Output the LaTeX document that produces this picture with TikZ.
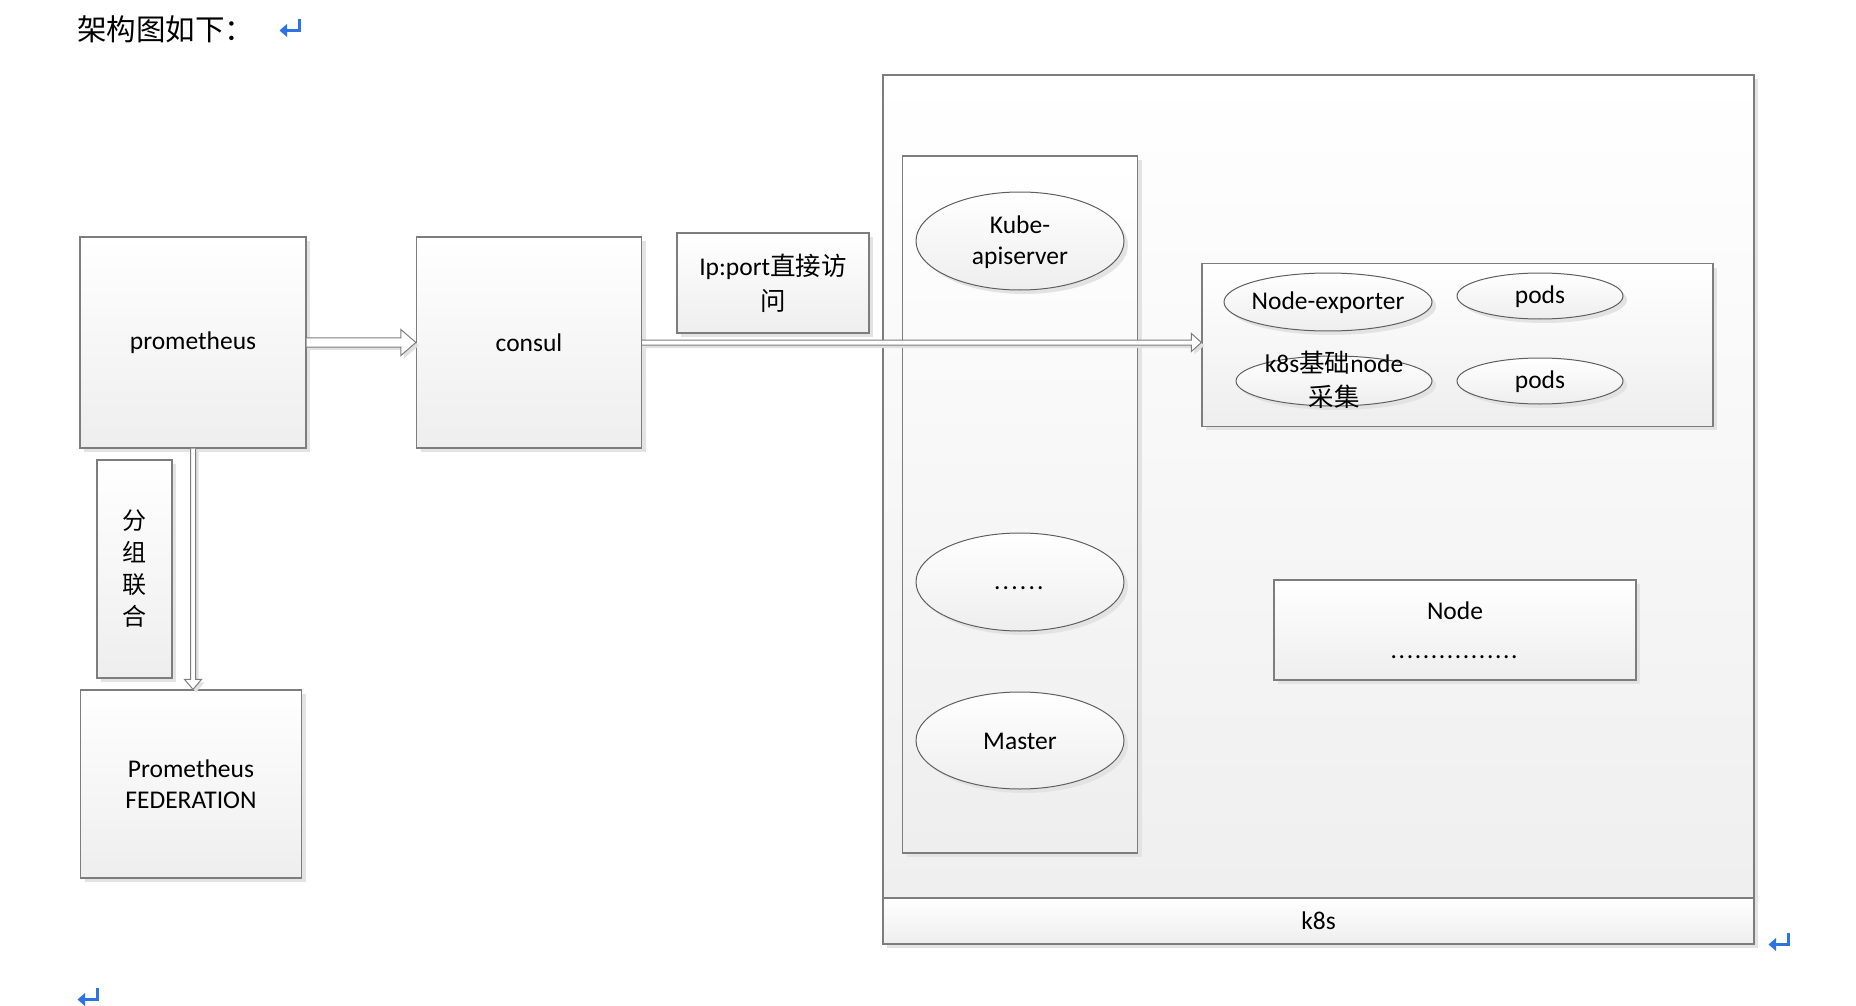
\documentclass[tikz,border=0pt]{standalone}
\usepackage{fontspec}
\setmainfont{Carlito}
\newfontfamily\cjk{Noto Sans CJK SC}
\usetikzlibrary{shapes.geometric,shadows,calc}
\definecolor{bordergray}{RGB}{125,125,125}
\definecolor{ellgray}{RGB}{95,95,95}
\definecolor{fillbot}{RGB}{238,238,238}
\definecolor{retblue}{RGB}{45,115,225}
\tikzset{
  shad/.style={drop shadow={shadow xshift=4pt,shadow yshift=-4pt,fill=black!11,opacity=1}},
  box/.style={draw=bordergray,line width=1.2pt,top color=white,bottom color=fillbot,shad,
    inner sep=0pt,font=\fontsize{25.5}{31}\selectfont,align=center},
  plainbox/.style={draw=bordergray,line width=1.2pt,top color=white,bottom color=fillbot,
    inner sep=0pt,font=\fontsize{25.5}{31}\selectfont,align=center},
  ell/.style={ellipse,draw=ellgray,line width=1pt,top color=white,bottom color=fillbot,shad,inner sep=0pt},
  lbl/.style={font=\fontsize{25.5}{31}\selectfont,align=center,inner sep=0pt},
  hollow/.style={draw=bordergray,line width=1pt,fill=white,drop shadow={shadow xshift=3pt,shadow yshift=-3pt,fill=black!12,opacity=1}},
  retmark/.pic={
    \draw[retblue,line width=3pt,line cap=butt] (9,-8) -- (9,3.5) -- (-4,3.5);
    \fill[retblue] (-10.5,3.5) -- (-3,-3) -- (-3,10) -- cycle;
  }
}
\begin{document}
\begin{tikzpicture}[x=1pt,y=-1pt]
\useasboundingbox (0,0) rectangle (1856,1006);
% title
\node[anchor=west,inner sep=0pt,font=\cjk\fontsize{29.5}{30}\selectfont] (title) at (77,29) {架构图如下：};
\pic at (290,27) {retmark};
\pic at (1779,941) {retmark};
\pic at (88,996) {retmark};

% k8s cluster
\node[box,minimum width=871,minimum height=869] (k8s) at (1318.5,509.5) {};
\node[plainbox,minimum width=871,minimum height=46] (k8sbar) at (1318.5,921) {k8s};
\node[box,minimum width=235,minimum height=697] (col) at (1020,504.5) {};
\node[ell,minimum width=208,minimum height=98] (kube) at (1020,241) {};
\node[lbl] (kubet) at ($(kube.center)+(0,1)$) {Kube-\\apiserver};
\node[ell,minimum width=208,minimum height=98] (more) at (1020,582) {};
\node[lbl] (moret) at ($(more.center)+(0,6)$) {\foreach \i in {1,...,6}{.\kern2.2pt}};
\node[ell,minimum width=208,minimum height=97] (master) at (1020,740.5) {};
\node[lbl] (mastert) at ($(master.center)+(0,1)$) {Master};

\node[box,minimum width=511,minimum height=162.5] (nodebox) at (1457.5,345) {};
\node[ell,minimum width=208,minimum height=58] (nexp) at (1328,302) {};
\node[lbl] (nexpt) at ($(nexp.center)+(0,1)$) {Node-exporter};
\node[ell,minimum width=166,minimum height=46] (pods1) at (1540,296) {};
\node[lbl] (pods1t) at ($(pods1.center)+(0,1)$) {pods};
\node[ell,minimum width=196,minimum height=50] (k8sn) at (1334,381) {};
\node[lbl,font=\fontsize{25.5}{34}\selectfont] (k8snt) at (1334,380) {k8s{\cjk 基础}node\\{\cjk 采集}};
\node[ell,minimum width=166,minimum height=46] (pods2) at (1540,381) {};
\node[lbl] (pods2t) at ($(pods2.center)+(0,1)$) {pods};

\node[box,minimum width=362,minimum height=100,font=\fontsize{25.5}{39}\selectfont] (nodeb) at (1455,630) {Node\\\foreach \i in {1,...,16}{.\kern1.6pt}};

% left side
\node[box,minimum width=226,minimum height=211] (prom) at (193,342.5) {prometheus};
\node[box,minimum width=225,minimum height=211] (consul) at (529,342.5) {consul};
\node[box,minimum width=192,minimum height=100,font=\fontsize{25.5}{35}\selectfont] (ipport) at (773,283) {Ip:port{\cjk 直接访}\\{\cjk 问}};
\node[box,minimum width=75,minimum height=218,font=\cjk\fontsize{24}{32}\selectfont] (group) at (134.5,569) {分\\组\\联\\合};
\node[box,minimum width=221,minimum height=188] (fed) at (191,784) {Prometheus\\FEDERATION};

% arrows
\draw[hollow] ($(prom.east)+(0,-4.7)$) -- ($(consul.west)+(-15,-4.7)$) -- ($(consul.west)+(-15,-13)$)
  -- (consul.west) -- ($(consul.west)+(-15,13)$) -- ($(consul.west)+(-15,4.7)$) -- ($(prom.east)+(0,4.7)$);
\coordinate (tipA) at (consul.east -| nodebox.west);
\draw[hollow] ($(consul.east)+(0,-2.5)$) -- ($(tipA)+(-10,-2.5)$) -- ($(tipA)+(-10,-9)$)
  -- (tipA) -- ($(tipA)+(-10,9)$) -- ($(tipA)+(-10,2.5)$) -- ($(consul.east)+(0,2.5)$);
\coordinate (tipB) at (prom.south |- fed.north);
\draw[hollow] ($(prom.south)+(-2.5,0)$) -- ($(tipB)+(-2.5,-10)$) -- ($(tipB)+(-8.5,-10)$)
  -- (tipB) -- ($(tipB)+(8.5,-10)$) -- ($(tipB)+(2.5,-10)$) -- ($(prom.south)+(2.5,0)$);
\end{tikzpicture}
\end{document}
